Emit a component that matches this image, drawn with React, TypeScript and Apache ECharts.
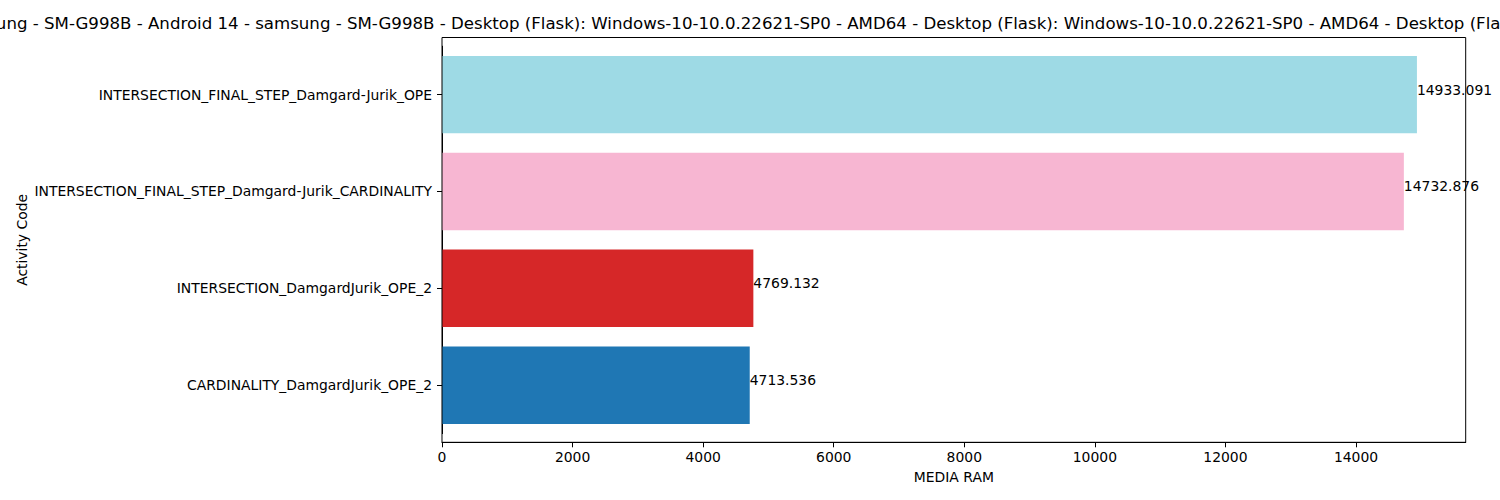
import React, { useEffect, useRef } from "react";
import * as echarts from "echarts";

const categories = [
  "CARDINALITY_DamgardJurik_OPE_2",
  "INTERSECTION_DamgardJurik_OPE_2",
  "INTERSECTION_FINAL_STEP_Damgard-Jurik_CARDINALITY",
  "INTERSECTION_FINAL_STEP_Damgard-Jurik_OPE",
];
const values = [4713.536, 4769.132, 14732.876, 14933.091];
const barColors = ["#1f77b4", "#d62728", "#f7b6d2", "#9edae5"];
const xTicks = [0, 2000, 4000, 6000, 8000, 10000, 12000, 14000];
const xMax = 15680;
const TITLE =
  "samsung - SM-G998B - Android 14 - samsung - SM-G998B - Desktop (Flask): Windows-10-10.0.22621-SP0 - AMD64 - Desktop (Flask): Windows-10-10.0.22621-SP0 - AMD64 - Desktop (Flask): Windows-10-10.0.22621-SP0 - AMD64";
const X_LABEL = "MEDIA RAM";
const Y_LABEL = "Activity Code";

const FONT = "DejaVu Sans";

export default function App() {
  const ref = useRef<HTMLDivElement>(null);
  useEffect(() => {
    if (!ref.current) return;
    const chart = echarts.init(ref.current, undefined, { renderer: "svg" });
    // fit title font so that the span "Android ... AMD64 - " (up to the last "Desktop") is 1247px wide
    const ctx = document.createElement("canvas").getContext("2d");
    let titleSize = 16.6;
    let pre = 170;
    if (ctx) {
      ctx.font = `16.67px '${FONT}'`;
      const start = TITLE.indexOf("Android");
      const end = TITLE.lastIndexOf("Desktop");
      const span = ctx.measureText(TITLE.slice(start, end)).width;
      if (span > 0) titleSize = (16.67 * 1247) / span;
      ctx.font = `${titleSize}px '${FONT}'`;
      pre = ctx.measureText(TITLE.slice(0, start)).width;
    }
    const titleX = 148 - pre;
    chart.setOption({
      animation: false,
      backgroundColor: "#ffffff",
      textStyle: { fontFamily: FONT },
      grid: { left: 442, right: 34.3, top: 46.2, bottom: 66.4, containLabel: false },
      xAxis: {
        type: "value",
        min: 0,
        max: xMax,
        interval: 2000,
        offset: 8.7,
        name: X_LABEL,
        nameLocation: "middle",
        nameGap: 28,
        nameMoveOverlap: false,
        nameTextStyle: { color: "#000", fontSize: 13.9, fontFamily: FONT },
        axisLine: { show: true, lineStyle: { color: "#000", width: 1 } },
        axisTick: {
          show: true,
          length: 5,
          lineStyle: { color: "#000", width: 1 },
          customValues: xTicks,
        },
        axisLabel: {
          color: "#000",
          fontSize: 13.9,
          fontFamily: FONT,
          margin: 8,
          customValues: xTicks,
          formatter: (v: number) => String(v),
        },
        splitLine: { show: false },
      },
      yAxis: {
        type: "category",
        data: categories,
        name: Y_LABEL,
        nameLocation: "middle",
        nameRotate: 90,
        nameGap: 413,
        nameMoveOverlap: false,
        nameTextStyle: { color: "#000", fontSize: 13.9, fontFamily: FONT },
        axisLine: { show: true, lineStyle: { color: "#000", width: 1 } },
        axisTick: { show: true, alignWithLabel: true, length: 5, lineStyle: { color: "#000", width: 1 } },
        axisLabel: { color: "#000", fontSize: 13.9, fontFamily: FONT, margin: 10 },
        splitLine: { show: false },
      },
      series: [
        {
          type: "bar",
          barWidth: "80%",
          data: values.map((v, i) => ({ value: v, itemStyle: { color: barColors[i] } })),
          label: {
            show: true,
            position: "right",
            distance: 0,
            offset: [0, -5],
            color: "#000",
            fontSize: 13.9,
            fontFamily: FONT,
            formatter: (p: any) => String(p.value),
          },
        },
      ],
      graphic: [
        {
          type: "rect",
          shape: { x: 442, y: 37.5, width: 1023.7, height: 404.8 },
          style: { fill: "none", stroke: "#000", lineWidth: 1 },
          z: 100,
          silent: true,
        },
        {
          type: "text",
          x: titleX,
          y: 23,
          style: {
            text: TITLE,
            fontSize: titleSize,
            fontFamily: FONT,
            fill: "#000",
            textAlign: "left",
            textVerticalAlign: "middle",
          },
        },
      ],
    });
    return () => chart.dispose();
  }, []);
  return (
    <div
      ref={ref}
      style={{ position: "fixed", left: 0, top: 0, width: 1500, height: 500 }}
    />
  );
}
